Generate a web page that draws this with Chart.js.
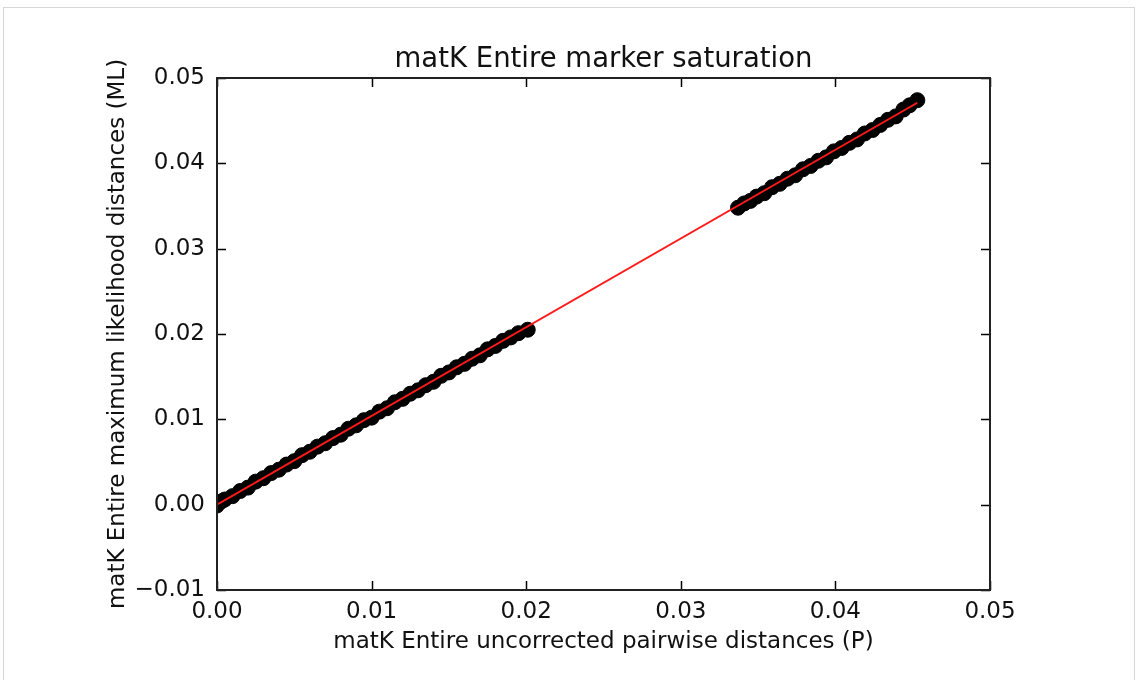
<!DOCTYPE html>
<html>
<head>
<meta charset="utf-8">
<title>matK Entire marker saturation</title>
<script src="https://cdn.jsdelivr.net/npm/chart.js@4.4.0/dist/chart.umd.min.js"></script>
<style>
body { margin: 0; background: #fff; overflow: hidden; }
canvas { position: absolute; left: 0; top: 0; }
#frame { position: absolute; left: 3px; top: 7px; width: 1130px; height: 700px; border: 1px solid #d6d6d6; pointer-events: none; }
</style>
</head>
<body>
<canvas id="canvas" width="1137" height="680"></canvas>
<div id="frame"></div>
<script>
// uncorrected pairwise distances (P) vs maximum likelihood distances (ML)
var nearP = [0.0000, 0.0003, 0.0005, 0.0010, 0.0015, 0.0020, 0.0025, 0.0030, 0.0035, 0.0040, 0.0045,
             0.0050, 0.0055, 0.0060, 0.0065, 0.0070, 0.0075, 0.0080, 0.0085, 0.0090, 0.0095,
             0.0100, 0.0105, 0.0110, 0.0115, 0.0120, 0.0125, 0.0130, 0.0135, 0.0140, 0.0145,
             0.0150, 0.0155, 0.0160, 0.0165, 0.0170, 0.0175, 0.0180, 0.0185, 0.0190, 0.0195, 0.0201];
var nearML = [-0.0001, 0.0004, 0.0006, 0.0010, 0.0016, 0.0020, 0.0027, 0.0031, 0.0037, 0.0041, 0.0047,
              0.0051, 0.0058, 0.0062, 0.0068, 0.0072, 0.0078, 0.0082, 0.0089, 0.0093, 0.0099,
              0.0102, 0.0109, 0.0113, 0.0120, 0.0124, 0.0130, 0.0134, 0.0140, 0.0144, 0.0151,
              0.0155, 0.0161, 0.0165, 0.0171, 0.0175, 0.0182, 0.0186, 0.0192, 0.0196, 0.0201, 0.0205];
var farP = [0.0337, 0.0341, 0.0345, 0.0349, 0.0354, 0.0359, 0.0364, 0.0369, 0.0374, 0.0379,
            0.0384, 0.0389, 0.0394, 0.0399, 0.0404, 0.0409, 0.0414, 0.0419, 0.0424, 0.0429,
            0.0434, 0.0439, 0.0444, 0.0448, 0.0453];
var farML = [0.0348, 0.0353, 0.0356, 0.0361, 0.0365, 0.0372, 0.0376, 0.0382, 0.0386, 0.0393,
             0.0397, 0.0403, 0.0407, 0.0414, 0.0418, 0.0424, 0.0428, 0.0435, 0.0439, 0.0445,
             0.0451, 0.0455, 0.0463, 0.0468, 0.0474];
var fitP = [0.0000, 0.0453];
var fitML = [0.0000, 0.0471];

var xTickLabels = ['0.00', '0.01', '0.02', '0.03', '0.04', '0.05'];
var yTickLabels = ['\u22120.01', '0.00', '0.01', '0.02', '0.03', '0.04', '0.05'];

function pairs(xs, ys) {
    return xs.map(function (x, i) { return {x: x, y: ys[i]}; });
}

// matplotlib style box with inward ticks on all four sides
var spineTicks = {
    id: 'spineTicks',
    afterDatasetsDraw: function (chart) {
        var ctx = chart.ctx, a = chart.chartArea;
        var xs = chart.scales.x, ys = chart.scales.y;
        ctx.save();
        ctx.strokeStyle = '#000';
        ctx.lineWidth = 1.5;
        ctx.beginPath();
        xs.ticks.forEach(function (t) {
            var px = Math.round(xs.getPixelForValue(t.value)) + 0.5;
            ctx.moveTo(px, a.bottom); ctx.lineTo(px, a.bottom - 9);
            ctx.moveTo(px, a.top); ctx.lineTo(px, a.top + 9);
        });
        ys.ticks.forEach(function (t) {
            var py = Math.round(ys.getPixelForValue(t.value)) + 0.5;
            ctx.moveTo(a.left, py); ctx.lineTo(a.left + 9, py);
            ctx.moveTo(a.right, py); ctx.lineTo(a.right - 9, py);
        });
        ctx.stroke();
        ctx.lineWidth = 2;
        ctx.strokeStyle = '#222';
        ctx.strokeRect(a.left, a.top, a.right - a.left, a.bottom - a.top);
        ctx.restore();
    }
};

Chart.defaults.font.family = '"DejaVu Sans", sans-serif';
Chart.defaults.color = '#111';

var cfg = {
    type: 'scatter',
    data: {
        datasets: [{
            type: 'line',
            label: 'fit',
            data: pairs(fitP, fitML),
            borderColor: '#ff1a1a',
            borderWidth: 2,
            pointRadius: 0,
            fill: false,
            order: 0
        }, {
            label: 'near',
            data: pairs(nearP, nearML),
            backgroundColor: '#000',
            borderColor: '#000',
            borderWidth: 1,
            pointRadius: 7.5,
            order: 1
        }, {
            label: 'far',
            data: pairs(farP, farML),
            backgroundColor: '#000',
            borderColor: '#000',
            borderWidth: 1,
            pointRadius: 7.5,
            order: 1
        }]
    },
    options: {
        responsive: false,
        animation: false,
        layout: {
            padding: {left: 90, right: 147, top: 0, bottom: 0}
        },
        plugins: {
            legend: {display: false},
            tooltip: {enabled: false},
            title: {
                display: true,
                text: 'matK Entire marker saturation',
                fullSize: false,
                font: {size: 27.5, weight: 'normal'},
                padding: {top: 43.5, bottom: 1.5}
            }
        },
        scales: {
            x: {
                type: 'linear',
                min: 0,
                max: 0.05,
                grid: {display: false, drawTicks: false},
                border: {display: false},
                ticks: {
                    stepSize: 0.01,
                    padding: 8,
                    font: {size: 23},
                    callback: function (v, i) { return xTickLabels[i]; }
                },
                title: {
                    display: true,
                    text: 'matK Entire uncorrected pairwise distances (P)',
                    font: {size: 23},
                    padding: {top: 0, bottom: 24}
                },
                afterFit: function (s) { s.height = 90; }
            },
            y: {
                type: 'linear',
                min: -0.01,
                max: 0.05,
                grid: {display: false, drawTicks: false},
                border: {display: false},
                ticks: {
                    stepSize: 0.01,
                    padding: 12,
                    font: {size: 23},
                    callback: function (v, i) { return yTickLabels[i]; }
                },
                title: {
                    display: true,
                    text: 'matK Entire maximum likelihood distances (ML)',
                    font: {size: 23},
                    padding: {top: 14, bottom: 0}
                },
                afterFit: function (s) { s.width = 127; }
            }
        }
    },
    plugins: [spineTicks]
};

window.onload = function () {
    window.myScatter = new Chart(document.getElementById('canvas'), cfg);
};
</script>
</body>
</html>
